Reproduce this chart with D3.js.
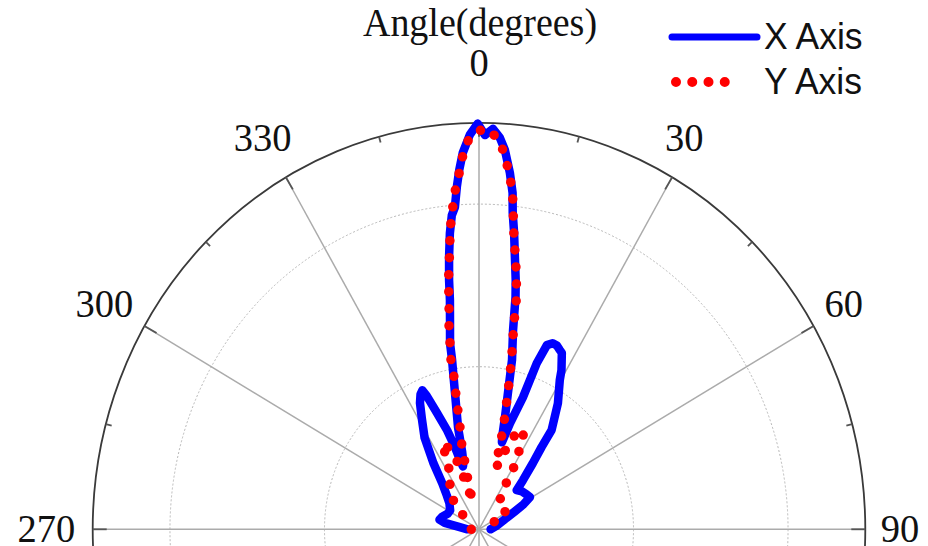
<!DOCTYPE html>
<html>
<head>
<meta charset="utf-8">
<script src="https://cdn.jsdelivr.net/npm/d3@7"></script>
<style>
  html, body { margin: 0; padding: 0; background: #ffffff; }
  svg { display: block; }
</style>
</head>
<body>
<div id="chart"></div>
<script>
// ---------------- DATA ----------------
const xAxisAngles = [-90,-84,-80,-77,-72,-65,-58,-50,-45,-40,-36,-32,-28.5,-26.2,-24.5,-23.2,-22.4,-20.8,-18.7,-17.1,-16,-15,-13.8,-12.9,-12.2,-10.5,-9.5,-9.3,-8.3,-7.6,-7.2,-6.6,-5.9,-5.2,-4.5,-3.9,-3.3,-2.6,-1.4,-0.2,0.9,2.1,3.2,4.1,5.2,6.0,6.4,7.1,7.9,8.8,9.4,10.2,11.6,12.6,13.7,14.8,15.5,17.1,19.3,19.75,20.1,21.2,22.6,24.0,25.4,26.3,28.6,29.7,33.4,37.6,38.7,40.6,43.3,45.4,50,55,59,62,65,70,80,90];
const xAxisValues = [0.03,0.05,0.09,0.105,0.10,0.09,0.088,0.10,0.118,0.148,0.20,0.266,0.31,0.346,0.365,0.372,0.355,0.306,0.257,0.211,0.177,0.16,0.17,0.195,0.257,0.341,0.422,0.464,0.52,0.569,0.618,0.674,0.733,0.776,0.795,0.844,0.886,0.927,0.971,0.998,0.970,0.986,0.965,0.936,0.881,0.832,0.783,0.735,0.676,0.621,0.579,0.498,0.425,0.343,0.284,0.235,0.222,0.273,0.344,0.39,0.435,0.486,0.496,0.495,0.488,0.484,0.446,0.422,0.371,0.308,0.259,0.214,0.166,0.137,0.145,0.15,0.154,0.13,0.10,0.07,0.045,0.03];

const yAxisAngles = [-90,-63.5,-50,-42.4,-37,-28.6,-26.7,-23.4,-19.1,-17.6,-15.5,-14.5,-13.3,-13.6,-13.3,-12.5,-12.2,-11.1,-10.6,-10.2,-9.8,-9.9,-9.3,-8.8,-8.1,-7.6,-7.1,-6.5,-6.0,-5.5,-4.8,-4.1,-3.2,-2.5,-1.4,0.9,3.1,4.2,5.1,5.9,6.4,6.8,7.4,8.2,8.8,9.6,9.9,10.3,10.9,11.5,12.1,12.7,13.5,14.3,14.7,16,18.2,19.8,23.2,26.4,28.7,31.2,32.2,36.8,48.3,57.3,58.4,54.3,76,87,90];
const yAxisValues = [0.02,0.035,0.054,0.103,0.129,0.146,0.19,0.234,0.19,0.145,0.10,0.07,0.0785,0.099,0.124,0.167,0.209,0.2535,0.2955,0.338,0.38,0.422,0.464,0.508,0.55,0.592,0.634,0.676,0.719,0.759,0.802,0.843,0.885,0.927,0.967,0.988,0.961,0.920,0.878,0.838,0.796,0.753,0.710,0.668,0.628,0.588,0.543,0.499,0.458,0.417,0.375,0.332,0.288,0.247,0.204,0.159,0.174,0.224,0.27,0.258,0.212,0.167,0.118,0.091,0.096,0.08,0.059,0.046,0.043,0.028,0.02];

const spokeAngles = [0,30,60,90,120,150];
const minorTickAngles = d3.range(0, 360, 15);
const angleLabelValues = [270,300,330,0,30,60,90];
const angleLabelTexts = ["270","300","330","0","30","60","90"];
const ringValues = [0.4, 0.8];
const radialDomain = [0, 1];
const seriesNames = ["X Axis", "Y Axis"];
const chartTitle = "Angle(degrees)";

// ---------------- LAYOUT ----------------
const W = 928, H = 546;
const cx = 479, cy = 529.3, rx = 386.3, ry = 406.5;
const textStretch = 1.053;

const svg = d3.select("#chart").append("svg")
  .attr("width", W).attr("height", H)
  .attr("viewBox", `0 0 ${W} ${H}`);

const rScale = d3.scaleLinear().domain(radialDomain).range([0, 1]);
const xS = d3.scaleLinear().domain([-1, 1]).range([cx - rx, cx + rx]);
const yS = d3.scaleLinear().domain([-1, 1]).range([cy + ry, cy - ry]);
const rad = a => a * Math.PI / 180;
const px = (a, v) => xS(rScale(v) * Math.sin(rad(a)));
const py = (a, v) => yS(rScale(v) * Math.cos(rad(a)));

// rings
svg.append("g").selectAll("ellipse").data(ringValues).join("ellipse")
  .attr("cx", cx).attr("cy", cy)
  .attr("rx", d => xS(rScale(d)) - cx)
  .attr("ry", d => cy - yS(rScale(d)))
  .attr("fill", "none").attr("stroke", "#b8b8b8")
  .attr("stroke-width", 1).attr("stroke-dasharray", "2 2");

// spokes (full diameters)
svg.append("g").selectAll("line").data(spokeAngles).join("line")
  .attr("x1", d => px(d, 1)).attr("y1", d => py(d, 1))
  .attr("x2", d => px(d + 180, 1)).attr("y2", d => py(d + 180, 1))
  .attr("stroke", "#ababab").attr("stroke-width", 1.5);

// outer ring
svg.append("ellipse")
  .attr("cx", cx).attr("cy", cy).attr("rx", rx).attr("ry", ry)
  .attr("fill", "none").attr("stroke", "#3a3a3a").attr("stroke-width", 1.8);

// ticks on outer ring
svg.append("g").selectAll("line").data(minorTickAngles).join("line")
  .attr("x1", d => px(d, 1)).attr("y1", d => py(d, 1))
  .attr("x2", d => { const len = d % 30 === 0 ? 14 : 6; const a = rad(d); return px(d, 1) - len * Math.sin(a); })
  .attr("y2", d => { const len = d % 30 === 0 ? 14 : 6; const a = rad(d); return py(d, 1) + len * Math.cos(a); })
  .attr("stroke", "#555").attr("stroke-width", 1.8);

// series
const line = d3.line().x(d => px(d[0], d[1])).y(d => py(d[0], d[1])).curve(d3.curveLinear);
const xData = xAxisAngles.map((a, i) => [a, xAxisValues[i]]);
const yData = yAxisAngles.map((a, i) => [a, yAxisValues[i]]);

svg.append("path").datum(xData).attr("d", line)
  .attr("fill", "none").attr("stroke", "#0000ff").attr("stroke-width", 8.5)
  .attr("stroke-linejoin", "round").attr("stroke-linecap", "round");

svg.append("path").datum(yData).attr("d", line)
  .attr("fill", "none").attr("stroke", "#ff0000").attr("stroke-width", 9.5)
  .attr("stroke-linecap", "round").attr("stroke-dasharray", "0 17");

// angle labels
function placeText(sel, x, y) {
  sel.attr("transform", `translate(${x},${y}) scale(1,${textStretch})`);
}
angleLabelValues.forEach((a, i) => {
  const s = a > 180 ? a - 360 : a;
  const fx = s === 30 ? 1.062 : (s > 0 ? 1.09 : 1.12);
  const fy = s === 0 ? 1.149 : 1.115;
  const x = xS(fx * Math.sin(rad(s)));
  const y = yS(fy * Math.cos(rad(s))) - (Math.abs(s) === 90 ? 1.5 : 0);
  const t = svg.append("text")
    .attr("text-anchor", "middle").attr("dy", "0.35em")
    .attr("font-family", "'Liberation Serif','Times New Roman',serif")
    .attr("font-size", 38.5).attr("fill", "#111")
    .text(angleLabelTexts[i]);
  placeText(t, x, y);
});

// title
placeText(svg.append("text")
  .attr("text-anchor", "middle")
  .attr("font-family", "'Liberation Serif','Times New Roman',serif")
  .attr("font-size", 38).attr("fill", "#111")
  .text(chartTitle), 480, 36);

// legend
const leg = svg.append("g");
leg.append("line").attr("x1", 672).attr("x2", 757).attr("y1", 37).attr("y2", 37)
  .attr("stroke", "#0000ff").attr("stroke-width", 7).attr("stroke-linecap", "round");
leg.append("line").attr("x1", 676).attr("x2", 741).attr("y1", 82).attr("y2", 82)
  .attr("stroke", "#ff0000").attr("stroke-width", 10).attr("stroke-linecap", "round")
  .attr("stroke-dasharray", "0 16.25");
seriesNames.forEach((n, i) => {
  placeText(leg.append("text")
    .attr("font-family", "'Liberation Sans',Arial,sans-serif")
    .attr("font-size", 35.5).attr("fill", "#111")
    .text(n), 764, i === 0 ? 49 : 94);
});
</script>
</body>
</html>
